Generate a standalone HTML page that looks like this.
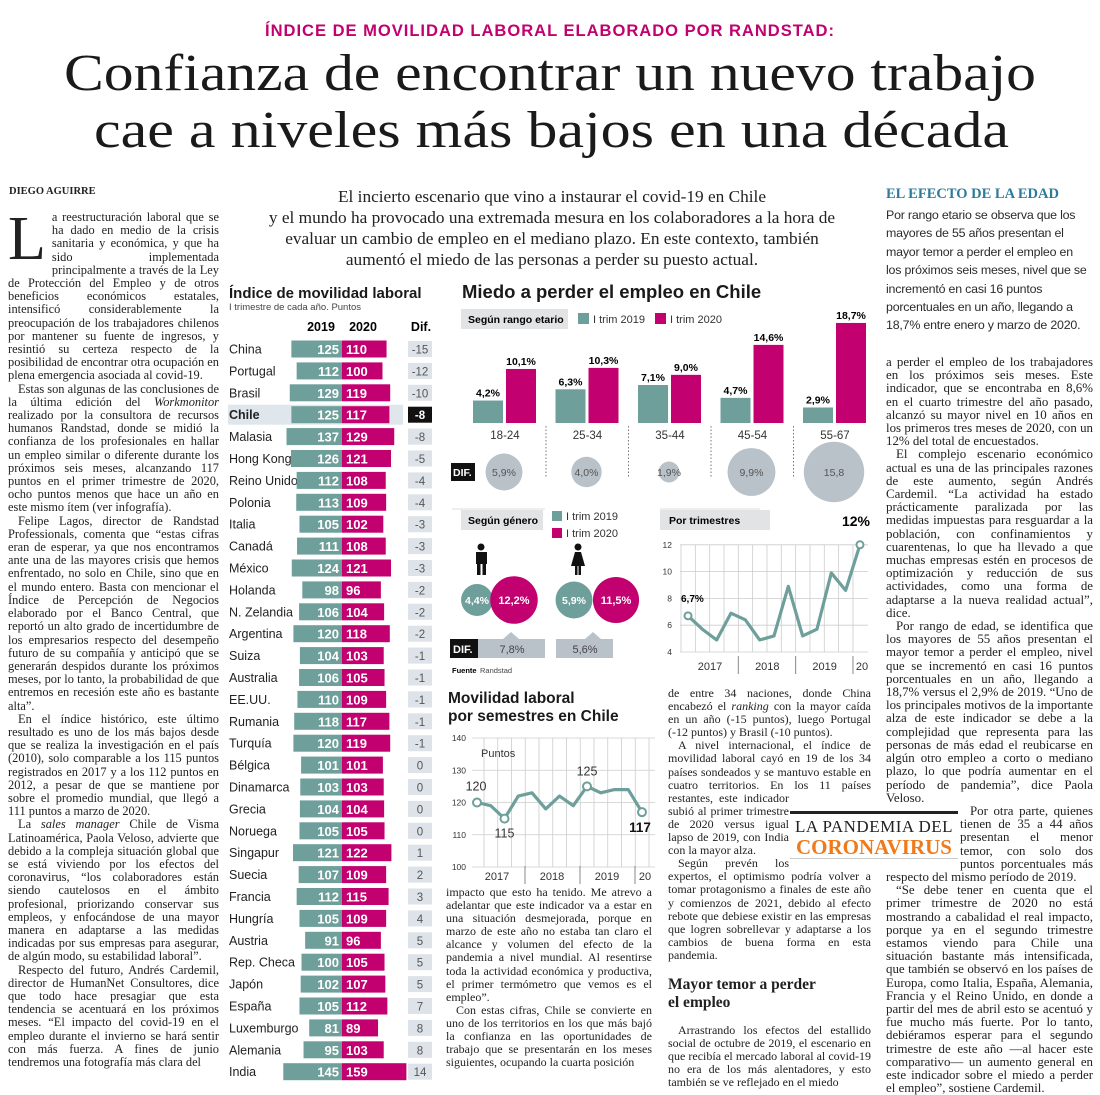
<!DOCTYPE html>
<html><head><meta charset="utf-8">
<style>
*{margin:0;padding:0;box-sizing:border-box}
body{width:1100px;height:1095px;background:#fff;position:relative;overflow:hidden;font-family:"Liberation Serif",serif;color:#222}
.abs{position:absolute}
.body{font-family:"Liberation Serif",serif;font-size:12px;line-height:13.1px;text-align:justify;hyphens:auto;color:#222}
.body p{text-indent:10px}
.fit{white-space:nowrap;transform-origin:0 0;display:inline-block}
svg text{font-family:"Liberation Sans",sans-serif}
</style></head><body>
<div class="abs fit" data-w="570" style="left:265px;top:21px;font-family:'Liberation Sans',sans-serif;font-weight:bold;font-size:17px;color:#c2006f;letter-spacing:1px">ÍNDICE DE MOVILIDAD LABORAL ELABORADO POR RANDSTAD:</div>
<div class="abs fit" data-w="972" style="left:64px;top:46px;font-size:52px;line-height:56px;color:#1a1a1a">Confianza de encontrar un nuevo trabajo</div>
<div class="abs fit" data-w="915" style="left:94px;top:103px;font-size:52px;line-height:56px;color:#1a1a1a">cae a niveles más bajos en una década</div>

<div class="abs" style="left:9px;top:186px;font-weight:bold;font-size:10.5px">DIEGO AGUIRRE</div>

<div class="abs body" style="left:8px;top:211px;width:211px;font-size:12.4px;line-height:13.2px">
<p style="text-indent:0"><span style="float:left;font-size:62px;line-height:50px;margin:3px 6px 0 0">L</span>a reestructuración laboral que se ha dado en medio de la crisis sanitaria y económica, y que ha sido implementada principalmente a través de la Ley de Protección del Empleo y de otros beneficios económicos estatales, intensificó considerablemente la preocupación de los trabajadores chilenos por mantener su fuente de ingresos, y resintió su certeza respecto de la posibilidad de encontrar otra ocupación en plena emergencia asociada al covid-19.</p>
<p>Estas son algunas de las conclusiones de la última edición del <i>Workmonitor</i> realizado por la consultora de recursos humanos Randstad, donde se midió la confianza de los profesionales en hallar un empleo similar o diferente durante los próximos seis meses, alcanzando 117 puntos en el primer trimestre de 2020, ocho puntos menos que hace un año en este mismo ítem (ver infografía).</p>
<p>Felipe Lagos, director de Randstad Professionals, comenta que “estas cifras eran de esperar, ya que nos encontramos ante una de las mayores crisis que hemos enfrentado, no solo en Chile, sino que en el mundo entero. Basta con mencionar el Índice de Percepción de Negocios elaborado por el Banco Central, que reportó un alto grado de incertidumbre de los empresarios respecto del desempeño futuro de su compañía y anticipó que se generarán despidos durante los próximos meses, por lo tanto, la probabilidad de que entremos en recesión este año es bastante alta”.</p>
<p>En el índice histórico, este último resultado es uno de los más bajos desde que se realiza la investigación en el país (2010), solo comparable a los 115 puntos registrados en 2017 y a los 112 puntos en 2012, a pesar de que se mantiene por sobre el promedio mundial, que llegó a 111 puntos a marzo de 2020.</p>
<p>La <i>sales manager</i> Chile de Visma Latinoamérica, Paola Veloso, advierte que debido a la compleja situación global que se está viviendo por los efectos del coronavirus, “los colaboradores están siendo cautelosos en el ámbito profesional, priorizando conservar sus empleos, y enfocándose de una mayor manera en adaptarse a las medidas indicadas por sus empresas para asegurar, de algún modo, su estabilidad laboral”.</p>
<p>Respecto del futuro, Andrés Cardemil, director de HumanNet Consultores, dice que todo hace presagiar que esta tendencia se acentuará en los próximos meses. “El impacto del covid-19 en el empleo durante el invierno se hará sentir con más fuerza. A fines de junio tendremos una fotografía más clara del</p>
</div>

<div class="abs" style="left:232px;top:186px;width:640px;text-align:center;font-size:17.3px;line-height:21px;color:#222;white-space:nowrap">El incierto escenario que vino a instaurar el covid-19 en Chile<br>y el mundo ha provocado una extremada mesura en los colaboradores a la hora de<br>evaluar un cambio de empleo en el mediano plazo. En este contexto, también<br>aumentó el miedo de las personas a perder su puesto actual.</div>

<div class="abs" style="left:886px;top:186px;font-weight:bold;font-size:14.5px;color:#2d7a9a">EL EFECTO DE LA EDAD</div>
<div class="abs" style="left:886px;top:206px;white-space:nowrap;font-family:'Liberation Sans',sans-serif;font-size:12.4px;line-height:18.4px;color:#2b2b2b;letter-spacing:-0.2px">Por rango etario se observa que los<br>mayores de 55 años presentan el<br>mayor temor a perder el empleo en<br>los próximos seis meses, nivel que se<br>incrementó en casi 16 puntos<br>porcentuales en un año, llegando a<br>18,7% entre enero y marzo de 2020.</div>

<div class="abs body" style="left:886px;top:356px;width:207px;font-size:12.9px;line-height:13.2px">
<div style="float:left;width:0;height:453px"></div><div style="float:left;clear:left;width:74px;height:52px"></div>
<p style="text-indent:0">a perder el empleo de los trabajadores en los próximos seis meses. Este indicador, que se encontraba en 8,6% en el cuarto trimestre del año pasado, alcanzó su mayor nivel en 10 años en los primeros tres meses de 2020, con un 12% del total de encuestados.</p>
<p>El complejo escenario económico actual es una de las principales razones de este aumento, según Andrés Cardemil. “La actividad ha estado prácticamente paralizada por las medidas impuestas para resguardar a la población, con confinamientos y cuarentenas, lo que ha llevado a que muchas empresas estén en procesos de optimización y reducción de sus actividades, como una forma de adaptarse a la nueva realidad actual”, dice.</p>
<p>Por rango de edad, se identifica que los mayores de 55 años presentan el mayor temor a perder el empleo, nivel que se incrementó en casi 16 puntos porcentuales en un año, llegando a 18,7% versus el 2,9% de 2019. “Uno de los principales motivos de la importante alza de este indicador se debe a la complejidad que representa para las personas de más edad el reubicarse en algún otro empleo a corto o mediano plazo, lo que podría aumentar en el período de pandemia”, dice Paola Veloso.</p>
<p>Por otra parte, quienes tienen de 35 a 44 años presentan el menor temor, con solo dos puntos porcentuales más respecto del mismo período de 2019.</p>
<p>“Se debe tener en cuenta que el primer trimestre de 2020 no está mostrando a cabalidad el real impacto, porque ya en el segundo trimestre estamos viendo para Chile una situación bastante más intensificada, que también se observó en los países de Europa, como Italia, España, Alemania, Francia y el Reino Unido, en donde a partir del mes de abril esto se acentuó y fue mucho más fuerte. Por lo tanto, debiéramos esperar para el segundo trimestre de este año —al hacer este comparativo— un aumento general en este indicador sobre el miedo a perder el empleo”, sostiene Cardemil.</p>
</div>

<div class="abs body" style="left:446px;top:886px;width:206px">
<p style="text-indent:0">impacto que esto ha tenido. Me atrevo a adelantar que este indicador va a estar en una situación desmejorada, porque en marzo de este año no estaba tan claro el alcance y volumen del efecto de la pandemia a nivel mundial. Al resentirse toda la actividad económica y productiva, el primer termómetro que vemos es el empleo”.</p>
<p>Con estas cifras, Chile se convierte en uno de los territorios en los que más bajó la confianza en las oportunidades de trabajo que se presentarán en los meses siguientes, ocupando la cuarta posición</p>
</div>

<div class="abs body" style="left:668px;top:687px;width:203px">
<div style="float:right;width:0;height:117px"></div><div style="float:right;clear:right;width:82px;height:66px"></div>
<p style="text-indent:0">de entre 34 naciones, donde China encabezó el <i>ranking</i> con la mayor caída en un año (-15 puntos), luego Portugal (-12 puntos) y Brasil (-10 puntos).</p>
<p>A nivel internacional, el índice de movilidad laboral cayó en 19 de los 34 países sondeados y se mantuvo estable en cuatro territorios. En los 11 países restantes, este indicador subió al primer trimestre de 2020 versus igual lapso de 2019, con India con la mayor alza.</p>
<p>Según prevén los expertos, el optimismo podría volver a tomar protagonismo a finales de este año y comienzos de 2021, debido al efecto rebote que debiese existir en las empresas que logren sobrellevar y adaptarse a los cambios de buena forma en esta pandemia.</p>
<div style="font-weight:bold;font-size:15.5px;line-height:18px;margin:14px 0 12px;text-align:left">Mayor temor a perder<br>el empleo</div>
<p>Arrastrando los efectos del estallido social de octubre de 2019, el escenario en que recibía el mercado laboral al covid-19 no era de los más alentadores, y esto también se ve reflejado en el miedo</p>
</div>

<div class="abs" style="left:790px;top:811px;width:168px;height:48px;background:#fff;border-top:3px solid #222;border-bottom:1px solid #ccc;text-align:center">
<div style="font-size:17px;line-height:19px;letter-spacing:.5px;margin-top:3px">LA PANDEMIA DEL</div>
<div style="font-size:21px;line-height:22px;font-weight:bold;color:#f07a1a">CORONAVIRUS</div>
</div>

<svg id="charts" class="abs" style="left:0;top:0" width="1100" height="1095"></svg>

<script>
// ---------- Table data ----------
const countries=["China","Portugal","Brasil","Chile","Malasia","Hong Kong","Reino Unido","Polonia","Italia","Canadá","México","Holanda","N. Zelandia","Argentina","Suiza","Australia","EE.UU.","Rumania","Turquía","Bélgica","Dinamarca","Grecia","Noruega","Singapur","Suecia","Francia","Hungría","Austria","Rep. Checa","Japón","España","Luxemburgo","Alemania","India"];
const v2019=[125,112,129,125,137,126,112,113,105,111,124,98,106,120,104,106,110,118,120,101,103,104,105,121,107,112,105,91,100,102,105,81,95,145];
const v2020=[110,100,119,117,129,121,108,109,102,108,121,96,104,118,103,105,109,117,119,101,103,104,105,122,109,115,109,96,105,107,112,89,103,159];
// ---------- Miedo por edad ----------
const ageGroups=["18-24","25-34","35-44","45-54","55-67"];
const fear2019=[4.2,6.3,7.1,4.7,2.9];
const fear2020=[10.1,10.3,9.0,14.6,18.7];
const fearDif=["5,9%","4,0%","1,9%","9,9%","15,8"];
const fearDifVal=[5.9,4.0,1.9,9.9,15.8];
// ---------- Género ----------
const gender2019=[4.4,5.9];
const gender2020=[12.2,11.5];
const genderDif=["7,8%","5,6%"];
// ---------- Por trimestres ----------
const quarterVals=[6.7,5.7,4.9,6.9,6.4,4.9,5.2,8.9,5.2,5.7,9.9,8.6,12];
const quarterTicks=[4,6,8,10,12];
const quarterYears=["2017","2018","2019","20"];
// ---------- Semestres (Movilidad) ----------
const semVals=[120,119,115,122,123,118,122,119,125,123,124,124,117];
const semTicks=[100,110,120,130,140];
const semYears=["2017","2018","2019","20"];

const TEAL="#6e9f9b",MAG="#c2006f",GREY="#b9c2c9";
const svg=document.getElementById('charts');
const NS="http://www.w3.org/2000/svg";
function mk(tag,attrs,parent){const e=document.createElementNS(NS,tag);for(const k in attrs)e.setAttribute(k,attrs[k]);(parent||svg).appendChild(e);return e;}
function tx(x,y,s,attrs,parent){const e=mk('text',Object.assign({x:x,y:y},attrs),parent);e.textContent=s;return e;}

// ===== Table =====
const tbl=mk('g',{});


let t=tx(229,298,"Índice de movilidad laboral",{'font-size':15,'font-weight':'bold',fill:'#1a1a1a'},tbl);

t=tx(229,310,"I trimestre de cada año. Puntos",{'font-size':9.5,fill:'#444'},tbl);

tx(321,331,"2019",{'font-size':12.5,'font-weight':'bold','text-anchor':'middle'},tbl);
tx(363,331,"2020",{'font-size':12.5,'font-weight':'bold','text-anchor':'middle'},tbl);
tx(421,331,"Dif.",{'font-size':12.5,'font-weight':'bold','text-anchor':'middle'},tbl);
const SPLIT=342, BS=0.405, ROW0=349, PITCH=21.9;
function rowY(i){return ROW0+i*PITCH;}
function barW(v){return v*BS;}
countries.forEach((c,i)=>{
  const y=rowY(i), chile=c==="Chile";
  const g=mk('g',{},tbl);
  
  
  if(chile) mk('rect',{x:228,y:y-10,width:175,height:20,fill:'#dfe6ec'},g);
  tx(229,y+4.5,c,{'font-size':12.5,'font-weight':chile?'bold':'normal',fill:'#222'},g);
  const w1=barW(v2019[i]), w2=barW(v2020[i]);
  const b1=mk('rect',{x:SPLIT-w1,y:y-8.5,width:w1,height:17,fill:TEAL},g);
  
  const b2=mk('rect',{x:SPLIT,y:y-8.5,width:w2,height:17,fill:MAG},g);
  
  tx(SPLIT-3,y+5,v2019[i],{'font-size':13,'font-weight':'bold',fill:'#fff','text-anchor':'end'},g);
  tx(SPLIT+4,y+5,v2020[i],{'font-size':13,'font-weight':'bold',fill:'#fff'},g);
  const d=v2020[i]-v2019[i];
  mk('rect',{x:408,y:y-8,width:24,height:16,fill:chile?'#111':'#dde3e8'},g);
  tx(420,y+4.5,d,{'font-size':11.5,'text-anchor':'middle',fill:chile?'#fff':'#555','font-weight':chile?'bold':'normal'},g);
});

// ===== Miedo por edad =====
const fg=mk('g',{});


t=tx(462,298,"Miedo a perder el empleo en Chile",{'font-size':18.5,'font-weight':'bold',fill:'#1a1a1a'},fg);

mk('rect',{x:461,y:309,width:107,height:20,fill:'#e1e3e5'},fg);
tx(468,323,"Según rango etario",{'font-size':10.5,'font-weight':'bold'},fg);
mk('rect',{x:578,y:313,width:11,height:11,fill:TEAL},fg);
tx(593,323,"I trim 2019",{'font-size':11,fill:'#333'},fg);
mk('rect',{x:655,y:313,width:11,height:11,fill:MAG},fg);
tx(670,323,"I trim 2020",{'font-size':11,fill:'#333'},fg);
const BASE=423, FS=5.35;
function gx(i){return 505+i*82.5;}
function fy(v){return BASE-v*FS;}
ageGroups.forEach((a,i)=>{
  const cx=gx(i);
  const r1=mk('rect',{x:cx-32,y:fy(fear2019[i]),width:30,height:BASE-fy(fear2019[i]),fill:TEAL},fg);
  
  const r2=mk('rect',{x:cx+1,y:fy(fear2020[i]),width:30,height:BASE-fy(fear2020[i]),fill:MAG},fg);
  
  tx(cx-17,fy(fear2019[i])-4,fear2019[i].toFixed(1).replace('.',',')+'%',{'font-size':10.5,'font-weight':'bold','text-anchor':'middle'},fg);
  tx(cx+16,fy(fear2020[i])-4,fear2020[i].toFixed(1).replace('.',',')+'%',{'font-size':10.5,'font-weight':'bold','text-anchor':'middle'},fg);
  tx(cx,439,a,{'font-size':11.5,'text-anchor':'middle',fill:'#333'},fg);
  const r=7.6*Math.sqrt(fearDifVal[i]);
  const c=mk('circle',{cx:cx-1,cy:472,r:r,fill:GREY},fg);
  
  tx(cx-1,476,fearDif[i],{'font-size':10.5,'text-anchor':'middle',fill:'#555'},fg);
  if(i<4) mk('line',{x1:cx+41,y1:426,x2:cx+41,y2:478,stroke:'#777','stroke-dasharray':'1.5,2'},fg);
});
mk('rect',{x:451,y:463,width:24,height:18,fill:'#111'},fg);
tx(453,476,"DIF.",{'font-size':10.5,'font-weight':'bold',fill:'#fff'},fg);
mk('line',{x1:452,y1:509,x2:545,y2:509,stroke:'#ddd'},fg);
mk('line',{x1:660,y1:509,x2:760,y2:509,stroke:'#ddd'},fg);

// ===== Género =====
const gg=mk('g',{});


mk('rect',{x:461,y:510,width:82,height:20,fill:'#e1e3e5'},gg);
tx(468,524,"Según género",{'font-size':10.5,'font-weight':'bold'},gg);
mk('rect',{x:552,y:511,width:10,height:10,fill:TEAL},gg);
tx(566,520,"I trim 2019",{'font-size':11,fill:'#333'},gg);
mk('rect',{x:552,y:528,width:10,height:10,fill:MAG},gg);
tx(566,537,"I trim 2020",{'font-size':11,fill:'#333'},gg);
mk('circle',{cx:481,cy:547,r:3.5,fill:'#111'},gg);
mk('rect',{x:476,y:552,width:11,height:12,fill:'#111'},gg);
mk('rect',{x:477,y:563,width:3.5,height:12,fill:'#111'},gg);
mk('rect',{x:482.5,y:563,width:3.5,height:12,fill:'#111'},gg);
mk('circle',{cx:578,cy:547,r:3.5,fill:'#111'},gg);
mk('path',{d:'M575,552 L581,552 L585,566 L571,566 Z',fill:'#111'},gg);
mk('rect',{x:575,y:565,width:2.5,height:10,fill:'#111'},gg);
mk('rect',{x:578.5,y:565,width:2.5,height:10,fill:'#111'},gg);
const gcx=[[477,514],[574,616]];
const gGroup=["hombres","mujeres"];
gender2019.forEach((v,i)=>{
  const ra=7.6*Math.sqrt(v), rb=6.8*Math.sqrt(gender2020[i]);
  const c1=mk('circle',{cx:gcx[i][0],cy:600,r:ra,fill:TEAL},gg);
  
  const c2=mk('circle',{cx:gcx[i][1],cy:600,r:rb,fill:MAG},gg);
  
  tx(gcx[i][0],604,v.toFixed(1).replace('.',',')+'%',{'font-size':10.5,'font-weight':'bold',fill:'#fff','text-anchor':'middle'},gg);
  tx(gcx[i][1],604,gender2020[i].toFixed(1).replace('.',',')+'%',{'font-size':11,'font-weight':'bold',fill:'#fff','text-anchor':'middle'},gg);
});
mk('rect',{x:450,y:639,width:28,height:19,fill:'#111'},gg);
tx(453,653,"DIF.",{'font-size':11,'font-weight':'bold',fill:'#fff'},gg);
mk('rect',{x:478,y:639,width:67,height:19,fill:GREY},gg);
mk('path',{d:'M503,639 L511,632 L519,639 Z',fill:GREY},gg);
tx(512,653,genderDif[0],{'font-size':11,'text-anchor':'middle',fill:'#444'},gg);
mk('rect',{x:556,y:639,width:57,height:19,fill:GREY},gg);
mk('path',{d:'M585,639 L593,632 L601,639 Z',fill:GREY},gg);
tx(585,653,genderDif[1],{'font-size':11,'text-anchor':'middle',fill:'#444'},gg);
tx(452,673,"Fuente",{'font-size':7.5,'font-weight':'bold'},gg);
tx(480,673,"Randstad",{'font-size':7.5,fill:'#444'},gg);

// ===== Por trimestres =====
const qg=mk('g',{});


mk('rect',{x:660,y:510,width:110,height:20,fill:'#e1e3e5'},qg);
tx(669,524,"Por trimestres",{'font-size':10.5,'font-weight':'bold'},qg);
tx(870,526,"12%",{'font-size':14,'font-weight':'bold','text-anchor':'end'},qg);
const QX0=688,QDX=14.33,QY0=652,QS=13.4;
function qx(i){return QX0+i*QDX;}
function qy(v){return QY0-(v-4)*QS;}
quarterTicks.forEach(v=>{mk('line',{x1:680,y1:qy(v),x2:868,y2:qy(v),stroke:'#ccc','stroke-width':.8},qg);tx(672,qy(v)+3,v,{'font-size':8.5,'text-anchor':'end',fill:'#333'},qg);});
quarterVals.forEach((v,i)=>mk('line',{x1:qx(i)-7,y1:qy(12),x2:qx(i)-7,y2:qy(4),stroke:'#ccc','stroke-width':.8},qg));
quarterYears.forEach((y,i)=>{const last=i===quarterYears.length-1;tx(last?qx(i*4)+2:qx(i*4)+22,670,y,{'font-size':11,'text-anchor':'middle',fill:'#333'},qg); if(i>0) mk('line',{x1:qx(i*4)-7,y1:656,x2:qx(i*4)-7,y2:674,stroke:'#888'},qg);});
const qp=mk('polyline',{points:quarterVals.map((v,i)=>qx(i)+','+qy(v)).join(' '),fill:'none',stroke:TEAL,'stroke-width':3.2,'stroke-linejoin':'round'},qg);

[0,quarterVals.length-1].forEach(i=>mk('circle',{cx:qx(i),cy:qy(quarterVals[i]),r:3.5,fill:'#fff',stroke:TEAL,'stroke-width':2},qg));
tx(681,602,"6,7%",{'font-size':10,'font-weight':'bold'},qg);

// ===== Semestres =====
const sg=mk('g',{});


t=tx(448,703,"Movilidad laboral",{'font-size':15.5,'font-weight':'bold',fill:'#1a1a1a'},sg);

tx(448,721,"por semestres en Chile",{'font-size':15.5,'font-weight':'bold',fill:'#1a1a1a'},sg);
const SX0=477,SDX=13.75,SY0=867,SS=3.225;
function sx(i){return SX0+i*SDX;}
function sy(v){return SY0-(v-100)*SS;}
semTicks.forEach(v=>{mk('line',{x1:472,y1:sy(v),x2:655,y2:sy(v),stroke:'#ccc','stroke-width':.8},sg);tx(466,sy(v)+3,v,{'font-size':8.5,'text-anchor':'end',fill:'#333'},sg);});
semVals.forEach((v,i)=>mk('line',{x1:sx(i)+7,y1:sy(140),x2:sx(i)+7,y2:sy(100),stroke:'#ccc','stroke-width':.8},sg));
semYears.forEach((y,i)=>{const last=i===semYears.length-1;tx(last?sx(i*4)+3:sx(i*4)+20,880,y,{'font-size':11,'text-anchor':'middle',fill:'#333'},sg); if(i>0) mk('line',{x1:sx(i*4)-7,y1:866,x2:sx(i*4)-7,y2:884,stroke:'#888'},sg);});
tx(481,757,"Puntos",{'font-size':11,fill:'#333'},sg);
const sp=mk('polyline',{points:semVals.map((v,i)=>sx(i)+','+sy(v)).join(' '),fill:'none',stroke:TEAL,'stroke-width':3.2,'stroke-linejoin':'round'},sg);

[0,2,8,12].forEach(i=>mk('circle',{cx:sx(i),cy:sy(semVals[i]),r:4,fill:'#fff',stroke:TEAL,'stroke-width':2},sg));
tx(sx(0)-1,sy(semVals[0])-12,semVals[0],{'font-size':12.5,'text-anchor':'middle',fill:'#333'},sg);
tx(sx(2),sy(semVals[2])+19,semVals[2],{'font-size':12.5,'text-anchor':'middle',fill:'#333'},sg);
tx(sx(8),sy(semVals[8])-11,semVals[8],{'font-size':12.5,'text-anchor':'middle',fill:'#333'},sg);
tx(sx(12)-2,sy(semVals[12])+20,semVals[12],{'font-size':13.5,'font-weight':'bold','text-anchor':'middle',fill:'#111'},sg);

// ===== fit headings =====
document.querySelectorAll('.fit').forEach(el=>{
  const target=+el.getAttribute('data-w');const w=el.getBoundingClientRect().width;
  if(w>0) el.style.transform='scaleX('+(target/w)+')';
});
</script>
</body></html>
